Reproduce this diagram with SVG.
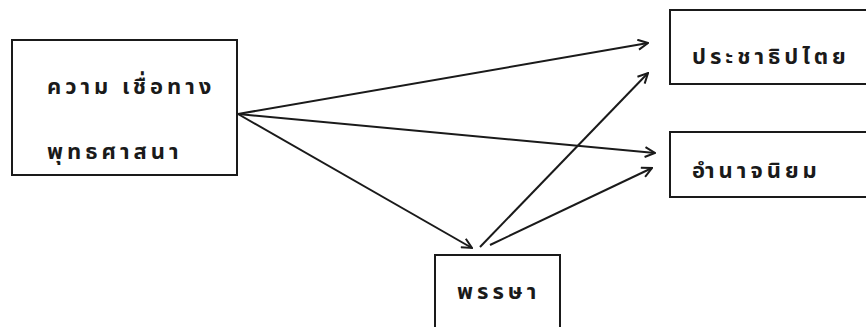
<svg xmlns="http://www.w3.org/2000/svg" width="866" height="327" viewBox="0 0 866 327">
<defs>
<style>
.box{fill:none;stroke:#1a1a1a;stroke-width:2}
.lbl{font-family:"Noto Sans Thai","Noto Sans","DejaVu Sans",sans-serif;font-size:22px;font-weight:bold;fill:#1a1a1a;letter-spacing:4px}
.edge{fill:none;stroke:#1a1a1a;stroke-width:2}
</style>
<marker id="arr" viewBox="0 0 12 12" refX="11" refY="6" markerWidth="12" markerHeight="12" markerUnits="userSpaceOnUse" orient="auto">
<path d="M1,1 L11,6 L1,11" fill="none" stroke="#1a1a1a" stroke-width="2"/>
</marker>
</defs>
<rect width="866" height="327" fill="#fff"/>
<g id="connectors">
<line class="edge" x1="238" y1="114" x2="648" y2="43" marker-end="url(#arr)"/>
<line class="edge" x1="238" y1="114" x2="655" y2="153" marker-end="url(#arr)"/>
<line class="edge" x1="238" y1="114" x2="472" y2="248" marker-end="url(#arr)"/>
<line class="edge" x1="480" y1="247" x2="648" y2="73" marker-end="url(#arr)"/>
<line class="edge" x1="490" y1="245" x2="652" y2="168" marker-end="url(#arr)"/>
</g>
<g id="belief">
<rect class="box" x="12" y="40" width="225" height="135"/>
<text class="lbl" x="47" y="94">ความ เชื่อทาง</text>
<text class="lbl" x="47" y="159">พุทธศาสนา</text>
</g>
<g id="democracy">
<rect class="box" x="670" y="10" width="210" height="74"/>
<text class="lbl" x="692" y="64">ประชาธิปไตย</text>
</g>
<g id="authoritarian">
<rect class="box" x="670" y="132" width="210" height="65"/>
<text class="lbl" x="692" y="178">อำนาจนิยม</text>
</g>
<g id="ordination">
<rect class="box" x="435" y="255" width="125" height="90"/>
<text class="lbl" x="457" y="299">พรรษา</text>
</g>
</svg>
